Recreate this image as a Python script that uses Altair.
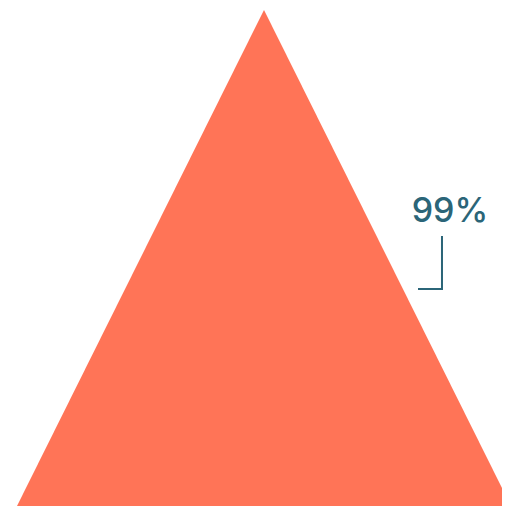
import altair as alt
import pandas as pd

# Pyramid shape (normalised units) and its single label
tri_x = [-1.0, 0.0, 1.0]
tri_y = [0.0, 1.0, 0.0]
labels = ["99%"]

# annotation leader (normalised units)
lab_x = [0.753]
lab_y = [0.5726]
lead_x = [0.6235, 0.7206, 0.7206]
lead_y = [0.4375, 0.4375, 0.5444]

W, H = 494, 498
xs = alt.Scale(domain=[-256 / 247, (W - 256) / 247], nice=False, zero=False)
ys = alt.Scale(domain=[0, 498 / 496], nice=False, zero=False)

tri = pd.DataFrame({"x": tri_x, "y": tri_y, "y2": [0.0] * 3})
lab = pd.DataFrame({"x": lab_x, "y": lab_y, "t": labels})
lead = pd.DataFrame({"x": lead_x, "y": lead_y, "o": list(range(len(lead_x)))})

area = alt.Chart(tri).mark_area(color="#ff7457", interpolate="linear").encode(
    x=alt.X("x:Q", scale=xs, axis=None),
    y=alt.Y("y:Q", scale=ys, axis=None),
    y2="y2:Q",
)
text = alt.Chart(lab).mark_text(
    font="Inter", fontSize=34, fontWeight=500, color="#2b6578",
    align="center", baseline="alphabetic"
).encode(
    x=alt.X("x:Q", scale=xs, axis=None),
    y=alt.Y("y:Q", scale=ys, axis=None),
    text="t:N",
)
line = alt.Chart(lead).mark_line(color="#2b6578", strokeWidth=2).encode(
    x=alt.X("x:Q", scale=xs, axis=None),
    y=alt.Y("y:Q", scale=ys, axis=None),
    order="o:Q",
)

chart = (
    alt.layer(area, line, text)
    .properties(width=W, height=H, padding=0, autosize=alt.AutoSizeParams(type="none"))
    .configure_view(stroke=None)
)
chart.save("out.html", embed_options={"renderer": "svg", "actions": False})
